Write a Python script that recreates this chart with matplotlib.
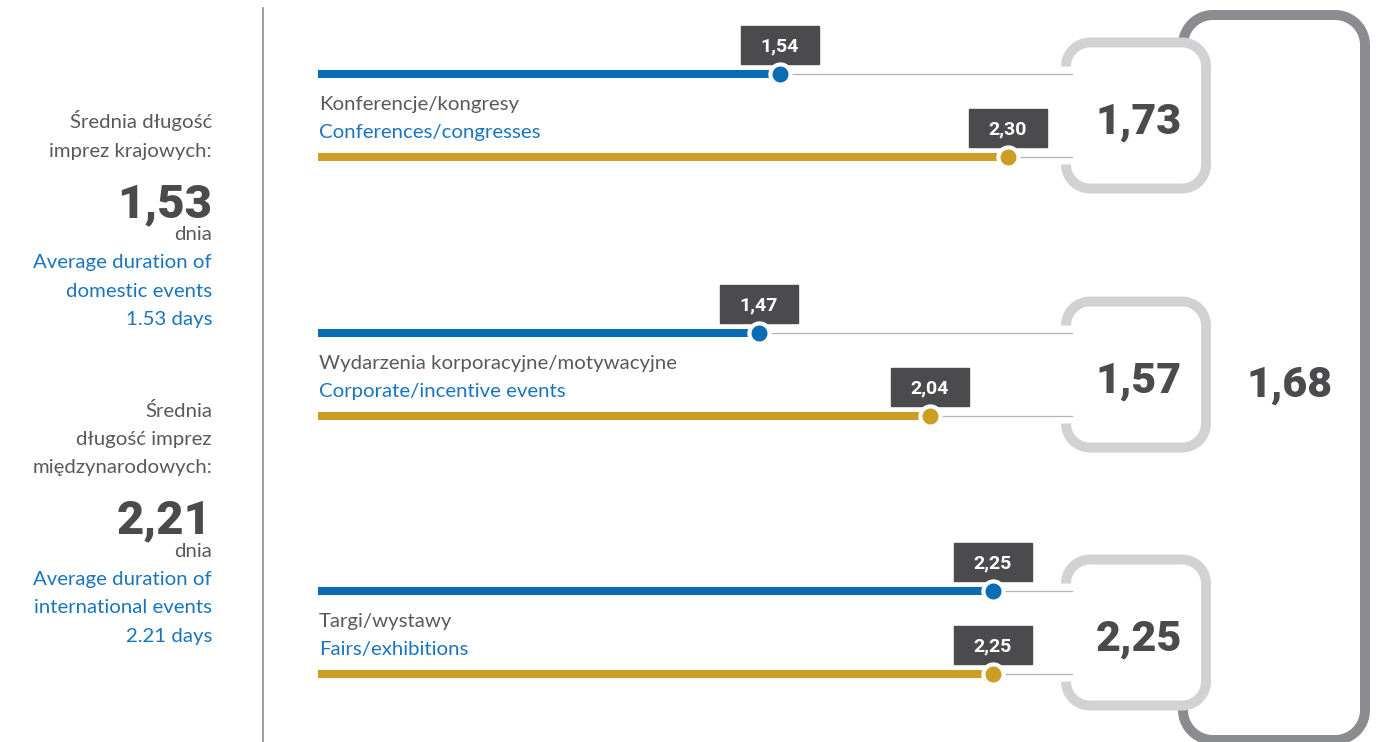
import matplotlib.pyplot as plt
import numpy as np
from matplotlib.patches import Rectangle

# data
categories_pl = ["Konferencje/kongresy", "Wydarzenia korporacyjne/motywacyjne", "Targi/wystawy"]
categories_en = ["Conferences/congresses", "Corporate/incentive events", "Fairs/exhibitions"]
domestic = [1.54, 1.47, 2.25]
international = [2.30, 2.04, 2.25]
category_avg = [1.73, 1.57, 2.25]
overall_avg = 1.68
domestic_avg = 1.53
international_avg = 2.21

# colours
BLUE = "#0a6cb5"
GOLD = "#cd9e25"
TXT_BLUE = "#1a75bc"
TXT_GREY = "#58595b"
DARK = "#4b4b4d"
LIGHT_BOX = "#d1d2d4"
OUTER_BOX = "#8b8c90"
THIN = "#b3b3b3"

FONT = "Lato"
HEAVY = "Roboto"

# layout (pixels)
W, H = 1376, 742
X0 = 318          # pixel where 0 days sits
PX_DAY = 300      # pixels per day
ROW_Y = [74, 333, 591]
ROW_GAP = 83
LINE_END_PX = 1072


def fmt(v):
    return f"{v:.2f}".replace(".", ",")


def bracket(ax, L, R, T, B, r, color, lw):
    # open-left rounded box, drawn as a polyline
    pts = []
    for cx, cy, a0, a1 in [(L + r, T + r, 180, 270), (R - r, T + r, 270, 360),
                           (R - r, B - r, 0, 90), (L + r, B - r, 90, 180)]:
        a = np.radians(np.linspace(a0, a1, 30))
        pts.append(np.column_stack([cx + r * np.cos(a), cy + r * np.sin(a)]))
    pts = np.vstack(pts)
    ax.plot(pts[:, 0], pts[:, 1], color=color, lw=lw, solid_capstyle="butt",
            solid_joinstyle="round")


fig = plt.figure(figsize=(W / 100, H / 100), dpi=100)
bg = fig.add_axes([0, 0, 1, 1])
bg.set_xlim(0, W)
bg.set_ylim(H, 0)
bg.axis("off")

ax = fig.add_axes([X0 / W, 0, 1 - X0 / W, 1])
ax.set_xlim(0, (W - X0) / PX_DAY)
ax.set_ylim(H, 0)
ax.axis("off")
ax.patch.set_alpha(0)

line_end = (LINE_END_PX - X0) / PX_DAY

# left divider
bg.plot([263, 263], [8, H], color="#8c8c8c", lw=1.2)

# left column texts
left = [
    ("Średnia długość", 128, "grey"), ("imprez krajowych:", 157, "grey"),
    (fmt(domestic_avg), 217, "big"), ("dnia", 240, "grey"),
    ("Average duration of", 268, "blue"), ("domestic events", 297, "blue"),
    (f"{domestic_avg:.2f} days", 325, "blue"),
    ("Średnia", 417, "grey"), ("długość imprez", 445, "grey"),
    ("międzynarodowych:", 473, "grey"),
    (fmt(international_avg), 533, "big"), ("dnia", 557, "grey"),
    ("Average duration of", 585, "blue"), ("international events", 613, "blue"),
    (f"{international_avg:.2f} days", 642, "blue"),
]
for s, y, kind in left:
    if kind == "big":
        bg.text(212, y, s, ha="right", va="baseline", fontsize=34, color=DARK,
                family=HEAVY, fontweight="black")
    else:
        bg.text(212, y, s, ha="right", va="baseline", fontsize=14.7,
                color=TXT_GREY if kind == "grey" else TXT_BLUE, family=FONT)

# outer bracket
bracket(bg, 1183, 1365, 15, 740, 30, OUTER_BOX, 7.2)
bg.text(1290, 385, fmt(overall_avg), ha="center", va="center", fontsize=31,
        color=DARK, family=HEAVY, fontweight="black")

for i in range(3):
    yb = ROW_Y[i]
    yg = yb + ROW_GAP
    cy = (yb + yg) / 2
    bracket(bg, 1066, 1206, cy - 73, cy + 73, 24, LIGHT_BOX, 7.2)
    bg.text(1139, cy + 7, fmt(category_avg[i]), ha="center", va="center",
            fontsize=31, color=DARK, family=HEAVY, fontweight="black")

    ax.text(0.003, yb + 36, categories_pl[i], ha="left", va="baseline",
            fontsize=14.7, color=TXT_GREY, family=FONT)
    ax.text(0.003, yb + 64, categories_en[i], ha="left", va="baseline",
            fontsize=14.7, color=TXT_BLUE, family=FONT)

    for v, y, c in [(domestic[i], yb, BLUE), (international[i], yg, GOLD)]:
        ax.plot([v, line_end], [y, y], color=THIN, lw=0.9, zorder=1)
        ax.plot([0, v], [y, y], color=c, lw=5.8, solid_capstyle="round", zorder=2)
        ax.add_patch(Rectangle((v - 39 / PX_DAY, y - 48), 78 / PX_DAY, 38,
                               color=DARK, zorder=3))
        ax.plot(v, y - 8, marker="v", ms=9, color=DARK, zorder=3)
        ax.text(v, y - 28, fmt(v), ha="center", va="center", fontsize=14,
                color="white", fontweight="bold", family=HEAVY, zorder=4)
        ax.plot(v, y, marker="o", ms=14.5, mfc=c, mec="white", mew=3, zorder=5)

fig.savefig("out.png", dpi=100)
